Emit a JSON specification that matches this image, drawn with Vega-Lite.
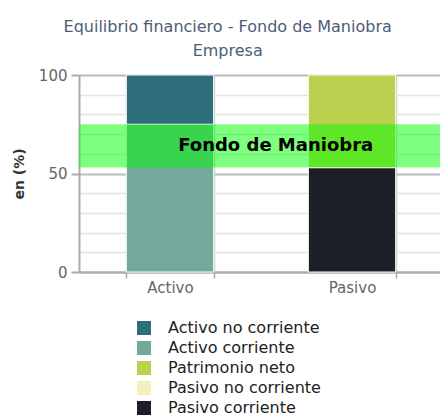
{
  "$schema": "https://vega.github.io/schema/vega-lite/v6.json",
  "width": 364,
  "height": 197,
  "padding": {"left": 12, "top": 19, "right": 0, "bottom": 0},
  "title": {
    "text": "Equilibrio financiero - Fondo de Maniobra",
    "subtitle": "Empresa",
    "frame": "bounds",
    "anchor": "middle",
    "font": "DejaVu Sans",
    "fontSize": 16,
    "fontWeight": "normal",
    "color": "#4d5d73",
    "subtitleFont": "DejaVu Sans",
    "subtitleFontSize": 16,
    "subtitleColor": "#4d5d73",
    "subtitlePadding": 8,
    "offset": 9
  },
  "config": {"view": {"stroke": null}, "font": "DejaVu Sans"},
  "resolve": {"axis": {"y": "independent"}},
  "layer": [
    {
      "data": {"values": [{"desde": 53, "hasta": 75}]},
      "mark": {"type": "rect", "opacity": 0},
      "encoding": {
        "y": {
          "field": "desde", "type": "quantitative",
          "axis": {
            "orient": "left", "title": null, "values": [10, 20, 30, 40, 60, 70, 80, 90],
            "labels": false, "ticks": false, "domain": false,
            "grid": true, "gridColor": "#e2e2e2", "gridWidth": 1.5
          }
        },
        "y2": {"field": "hasta"}
      }
    },
    {
      "data": {"values": [
        {"categoria": "Activo", "partida": "Activo corriente", "valor": 75, "capa": 1},
        {"categoria": "Activo", "partida": "Activo no corriente", "valor": 25, "capa": 2},
        {"categoria": "Pasivo", "partida": "Pasivo corriente", "valor": 53, "capa": 1},
        {"categoria": "Pasivo", "partida": "Pasivo no corriente", "valor": 0, "capa": 2},
        {"categoria": "Pasivo", "partida": "Patrimonio neto", "valor": 47, "capa": 3}
      ]},
      "mark": {"type": "bar", "stroke": "white", "strokeWidth": 1},
      "encoding": {
        "x": {
          "field": "categoria", "type": "nominal", "title": null,
          "scale": {"paddingInner": 0.52, "paddingOuter": 0.26},
          "axis": {
            "labelAngle": 0, "labelFontSize": 15, "labelColor": "#666", "labelPadding": 2,
            "tickBand": "extent", "grid": true, "gridColor": "#cccccc", "gridWidth": 1.5,
            "domainColor": "#aaaaaa", "domainWidth": 2, "tickColor": "#aaaaaa", "tickSize": 6, "tickWidth": 1.5
          }
        },
        "y": {
          "field": "valor", "type": "quantitative", "stack": "zero", "title": "en (%)",
          "scale": {"domain": [0, 100], "nice": false},
          "axis": {
            "orient": "left",
            "values": [0, 50, 100],
            "labelFontSize": 15, "labelColor": "#666", "labelPadding": 4, "labelFlush": false,
            "titleFontSize": 14, "titleFontWeight": "bold", "titleColor": "#333", "titlePadding": 12,
            "grid": true, "gridColor": "#bbbbbb", "gridWidth": 2,
            "domainColor": "#aaaaaa", "domainWidth": 2, "tickColor": "#aaaaaa", "tickSize": 8, "tickWidth": 2
          }
        },
        "color": {
          "field": "partida", "type": "nominal",
          "scale": {
            "domain": ["Activo no corriente", "Activo corriente", "Patrimonio neto", "Pasivo no corriente", "Pasivo corriente"],
            "range": ["#2e6e7a", "#72a99a", "#bccf4f", "#f5efbe", "#1d1f26"]
          },
          "legend": {
            "title": null, "orient": "none", "legendX": 57, "legendY": 245,
            "symbolType": "square", "symbolSize": 196, "symbolStrokeWidth": 0, "symbolOpacity": 1,
            "labelFontSize": 16, "labelColor": "#222", "labelOffset": 16, "rowPadding": 4, "padding": 0
          }
        },
        "order": {"field": "capa", "type": "quantitative"}
      }
    },
    {
      "data": {"values": [{"desde": 53, "hasta": 75}]},
      "mark": {"type": "rect", "color": "#00ff00", "opacity": 0.5},
      "encoding": {
        "y": {"field": "desde", "type": "quantitative", "axis": null},
        "y2": {"field": "hasta"}
      }
    },
    {
      "data": {"values": [{"etiqueta": "Fondo de Maniobra", "categoria": "Activo", "medio": 64}]},
      "mark": {"type": "text", "fontWeight": "bold", "fontSize": 18, "align": "center", "baseline": "middle", "color": "black"},
      "encoding": {
        "x": {"field": "categoria", "type": "nominal", "bandPosition": 1.71, "title": null},
        "y": {"field": "medio", "type": "quantitative", "axis": null},
        "text": {"field": "etiqueta"}
      }
    }
  ]
}
